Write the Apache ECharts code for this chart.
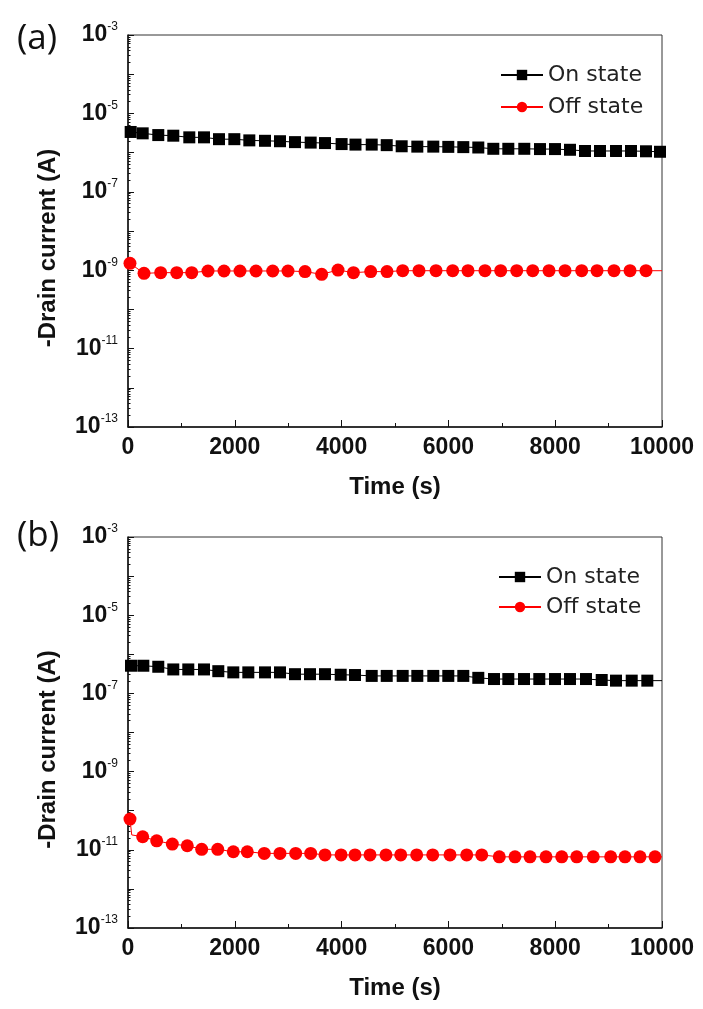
<!DOCTYPE html>
<html><head><meta charset="utf-8">
<script src="https://cdn.jsdelivr.net/npm/echarts@6/dist/echarts.min.js"></script>
<style>html,body{margin:0;padding:0;background:#fff}#c{width:703px;height:1009px}</style>
</head><body><div id="c"></div>
<script>
// ---- data ----
const seriesNames = ['On state', 'Off state'];
const panelLabels = ['(a)', '(b)'];
const xTickLabels = [0, 2000, 4000, 6000, 8000, 10000];
const yLabeledExponents = [-13, -11, -9, -7, -5, -3];

// panel (a)
const timeOnA = [50,275,567,848,1148,1423,1704,1991,2272,2566,2846,3127,3421,3689,4000,4260,4564,4845,5125,5418,5717,5998,6279,6560,6841,7122,7421,7715,7996,8277,8558,8839,9139,9419,9700,9963];
const onA = [3.36e-6,3.1e-6,2.8e-6,2.7e-6,2.45e-6,2.45e-6,2.2e-6,2.2e-6,2.05e-6,2.0e-6,1.95e-6,1.85e-6,1.8e-6,1.75e-6,1.65e-6,1.6e-6,1.6e-6,1.55e-6,1.45e-6,1.42e-6,1.42e-6,1.4e-6,1.38e-6,1.35e-6,1.25e-6,1.25e-6,1.25e-6,1.23e-6,1.23e-6,1.18e-6,1.1e-6,1.1e-6,1.1e-6,1.1e-6,1.08e-6,1.05e-6];
const onALineOnlyT = [10000];
const onALineOnly = [1.05e-6];

const timeOffA = [37,300,612,912,1193,1498,1798,2097,2397,2710,2996,3315,3627,3933,4222,4545,4850,5144,5449,5768,6080,6367,6685,6979,7279,7579,7884,8184,8496,8783,9101,9401,9700];
const offA = [1.5e-9,8.3e-10,8.65e-10,8.65e-10,8.65e-10,9.55e-10,9.55e-10,9.55e-10,9.55e-10,9.55e-10,9.55e-10,9.2e-10,7.85e-10,1.01e-9,8.65e-10,9.2e-10,9.2e-10,9.7e-10,9.7e-10,9.7e-10,9.7e-10,9.7e-10,9.7e-10,9.7e-10,9.7e-10,9.7e-10,9.7e-10,9.7e-10,9.7e-10,9.7e-10,9.7e-10,9.7e-10,9.7e-10];
const offALineOnlyT = [10000];
const offALineOnly = [9.7e-10];

// panel (b)
const timeOnB = [56,287,567,848,1129,1423,1691,1972,2253,2566,2846,3127,3408,3689,3983,4251,4564,4845,5144,5418,5717,5998,6279,6560,6854,7122,7416,7702,7996,8277,8577,8871,9139,9433,9725];
const onB = [5.1e-7,5.1e-7,4.8e-7,4.1e-7,4.1e-7,4.1e-7,3.7e-7,3.45e-7,3.45e-7,3.45e-7,3.45e-7,3.1e-7,3.1e-7,3.1e-7,3.0e-7,2.95e-7,2.8e-7,2.8e-7,2.8e-7,2.8e-7,2.8e-7,2.8e-7,2.8e-7,2.5e-7,2.33e-7,2.33e-7,2.33e-7,2.33e-7,2.33e-7,2.33e-7,2.33e-7,2.2e-7,2.12e-7,2.12e-7,2.12e-7];
const onBLineOnlyT = [10000];
const onBLineOnly = [2.12e-7];

const timeOffB = [37,275,537,830,1110,1380,1680,1972,2234,2552,2846,3140,3421,3689,3990,4251,4532,4831,5107,5406,5706,6030,6343,6624,6953,7247,7528,7828,8122,8403,8713,9039,9307,9588,9869];
const offB = [6.1e-11,2.16e-11,1.7e-11,1.4e-11,1.27e-11,1.03e-11,1.03e-11,8.9e-12,8.9e-12,8.1e-12,8.1e-12,8.1e-12,8.1e-12,7.4e-12,7.4e-12,7.4e-12,7.4e-12,7.4e-12,7.4e-12,7.4e-12,7.4e-12,7.4e-12,7.4e-12,7.4e-12,6.6e-12,6.6e-12,6.6e-12,6.6e-12,6.6e-12,6.6e-12,6.6e-12,6.6e-12,6.6e-12,6.6e-12,6.6e-12];
const offBLineOnlyT = [70, 10000];
const offBLineOnly = [2.4e-11, 6.6e-12];

// ---- build ----
const SANS = '"Liberation Sans", Arial, sans-serif';
function build(ts, vs, lt, lv) {
  const pts = ts.map((t, i) => ({ value: [t, vs[i]] }));
  lt.forEach((t, i) => pts.push({ value: [t, lv[i]], symbol: 'none' }));
  pts.sort((a, b) => a.value[0] - b.value[0]);
  return pts;
}

const grids = [
  { left: 128, top: 35, width: 534, height: 392 },
  { left: 128, top: 537, width: 534, height: 391 }
];

function xAxis(gi) {
  return {
    type: 'value', gridIndex: gi, min: 0, max: 10000, interval: 2000,
    name: 'Time (s)', nameLocation: 'middle', nameGap: 48,
    nameTextStyle: { fontFamily: SANS, fontSize: 24, fontWeight: 'bold', color: '#111' },
    axisLine: { onZero: false, lineStyle: { color: '#111', width: 1.5 } },
    axisTick: { inside: true, length: 7, lineStyle: { color: '#111' } },
    minorTick: { show: true, splitNumber: 2, length: 4, lineStyle: { color: '#111' } },
    splitLine: { show: false },
    axisLabel: {
      margin: 9, fontFamily: SANS, fontSize: 23, fontWeight: 'bold', color: '#111',
      formatter: v => xTickLabels.includes(v) ? String(v) : ''
    }
  };
}
function yAxis(gi) {
  return {
    type: 'log', logBase: 10, gridIndex: gi, min: 1e-13, max: 1e-3, splitNumber: 10,
    name: '-Drain current (A)', nameLocation: 'middle', nameGap: 68,
    nameTextStyle: { fontFamily: SANS, fontSize: 24, fontWeight: 'bold', color: '#111', padding: [0, 34, 0, 0] },
    axisLine: { onZero: false, lineStyle: { color: '#111', width: 1.5 } },
    axisTick: { inside: true, length: 6, lineStyle: { color: '#111' } },
    minorTick: { show: true, splitNumber: 9, length: 2.5, lineStyle: { color: '#111' } },
    splitLine: { show: false },
    axisLabel: {
      margin: 10, color: '#111',
      formatter: v => {
        const e = Math.round(Math.log10(v));
        return yLabeledExponents.includes(e) ? '{b|10}{s|' + e + '}' : '';
      },
      rich: {
        b: { fontFamily: SANS, fontSize: 23, fontWeight: 'bold', color: '#111' },
        s: { fontFamily: SANS, fontSize: 12, color: '#111', padding: [0, 0, 16, 0] }
      }
    }
  };
}

function series(gi, nm, data, isOn) {
  return {
    type: 'line', name: nm, xAxisIndex: gi, yAxisIndex: gi, data,
    symbol: isOn ? 'rect' : 'circle', symbolSize: isOn ? 12 : 13, showAllSymbol: true,
    color: isOn ? '#000' : '#ff0000',
    lineStyle: { width: 1, color: isOn ? '#000' : '#ff0000' },
    itemStyle: { color: isOn ? '#000' : '#ff0000' },
    animation: false
  };
}

const legendCommon = {
  orient: 'vertical', itemWidth: 42, itemHeight: 13,
  textStyle: { fontFamily: '"DejaVu Sans", sans-serif', fontSize: 22, color: '#222', lineHeight: 24 },
  data: seriesNames
};

const titleStyle = { fontFamily: '"Open Sans", sans-serif', fontSize: 35, fontWeight: 'normal', color: '#111' };
const option = {
  backgroundColor: '#fff',
  animation: false,
  title: [
    { text: panelLabels[0], left: 12, top: 17, textStyle: titleStyle },
    { text: panelLabels[1], left: 12, top: 514, textStyle: titleStyle }
  ],
  legend: [
    Object.assign({}, legendCommon, { left: 495, top: 58, itemGap: 8 }),
    Object.assign({}, legendCommon, { left: 493, top: 560, itemGap: 6 })
  ],
  grid: grids.map(g => Object.assign({ show: true, borderColor: '#333', borderWidth: 1, backgroundColor: 'transparent' }, g)),
  xAxis: [xAxis(0), xAxis(1)],
  yAxis: [yAxis(0), yAxis(1)],
  series: [
    series(0, seriesNames[0], build(timeOnA, onA, onALineOnlyT, onALineOnly), true),
    series(0, seriesNames[1], build(timeOffA, offA, offALineOnlyT, offALineOnly), false),
    series(1, seriesNames[0], build(timeOnB, onB, onBLineOnlyT, onBLineOnly), true),
    series(1, seriesNames[1], build(timeOffB, offB, offBLineOnlyT, offBLineOnly), false)
  ]
};
const chart = echarts.init(document.getElementById('c'), null, { renderer: 'canvas' });
chart.setOption(option);
</script></body></html>
